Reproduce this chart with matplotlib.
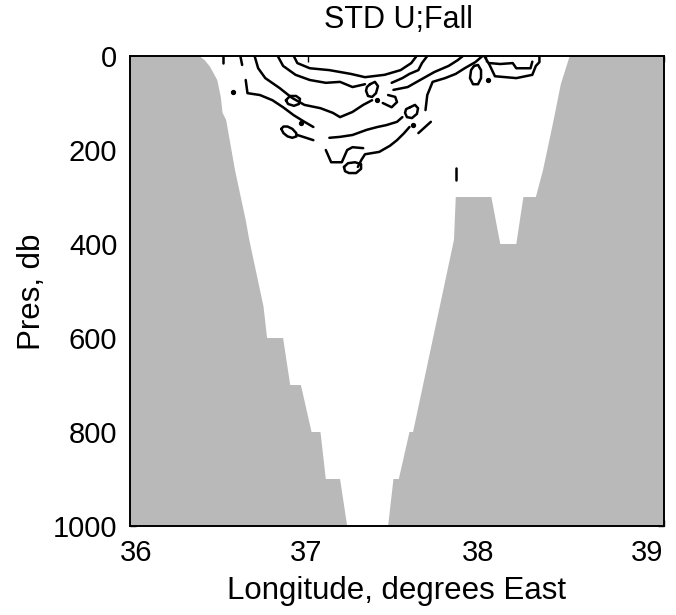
import matplotlib.pyplot as plt
from matplotlib.transforms import ScaledTranslation

plt.rcParams['font.family'] = ['Liberation Sans', 'DejaVu Sans']

# bottom topography, longitude (deg E) / pressure (db)
left_lon = [36.0, 36.39, 36.42, 36.45, 36.49, 36.51, 36.52, 36.54, 36.59, 36.65, 36.67,
            36.71, 36.75, 36.77, 36.86, 36.90, 36.96, 37.02, 37.07, 37.10, 37.18, 37.22, 36.0]
left_pres = [0, 0, 9, 23, 51, 87, 121, 136, 243, 349, 391,
             462, 533, 600, 600, 700, 700, 800, 800, 900, 900, 1000, 1000]

right_lon = [39.0, 38.47, 38.42, 38.38, 38.32, 38.28, 38.21, 38.17, 38.08, 38.03, 37.83,
             37.82, 37.59, 37.57, 37.51, 37.48, 37.45, 39.0]
right_pres = [0, 0, 60, 136, 243, 300, 300, 400, 400, 300, 300,
              391, 800, 800, 900, 900, 1000, 1000]

xtick_vals = [36, 37, 38, 39]
ytick_vals = [0, 200, 400, 600, 800, 1000]

# contour pieces of STD U
c1_lon = [36.92, 36.94, 37.01, 37.12, 37.24, 37.32, 37.43, 37.52, 37.58, 37.61]
c1_pres = [0, 15, 26, 30, 38, 45, 40, 30, 15, 0]
c2a_lon = [36.83, 36.86, 36.93, 37.01, 37.10, 37.18, 37.25, 37.32]
c2a_pres = [0, 21, 40, 51, 57, 55, 66, 60]
c2b_lon = [37.47, 37.53, 37.57, 37.62, 37.64, 37.67]
c2b_pres = [57, 47, 38, 30, 15, 0]
c3a_lon = [36.70, 36.72, 36.76, 36.84, 36.91, 36.98, 37.07, 37.14, 37.18, 37.25, 37.31, 37.36]
c3a_pres = [0, 26, 47, 68, 89, 104, 111, 121, 130, 119, 104, 94]
c3b_lon = [37.45, 37.49, 37.50, 37.47, 37.42]
c3b_pres = [83, 87, 98, 109, 100]
c3c_lon = [37.48, 37.56, 37.63, 37.71, 37.79, 37.84, 37.87]
c3c_pres = [72, 66, 51, 34, 21, 9, 0]
c4a_lon = [36.65, 36.66, 36.73, 36.80, 36.86, 36.92, 36.98, 37.03]
c4a_pres = [51, 79, 83, 94, 109, 126, 140, 151]
c4b_lon = [37.66, 37.67, 37.70, 37.77, 37.83, 37.88, 37.94, 37.98]
c4b_pres = [115, 83, 55, 47, 38, 26, 13, 0]
c5_lon = [37.12, 37.18, 37.25, 37.33, 37.39, 37.44, 37.50, 37.53]
c5_pres = [174, 172, 168, 157, 151, 147, 140, 130]
c6a_lon = [37.10, 37.13, 37.19, 37.22, 37.25, 37.31]
c6a_pres = [200, 226, 226, 200, 194, 196]
c6b_lon = [37.28, 37.30, 37.32, 37.40, 37.46, 37.50, 37.54, 37.57]
c6b_pres = [236, 221, 209, 204, 191, 179, 164, 151]
seg_lon = [37.62, 37.69]
seg_pres = [164, 140]
dash_lon = [37.83, 37.83]
dash_pres = [238, 264]
tail_lon = [36.94, 37.03]
tail_pres = [168, 179]
tick1_lon = [36.52, 36.52]
tick1_pres = [0, 15]
tick2_lon = [36.62, 36.63]
tick2_pres = [0, 19]
box_lon = [37.99, 38.02, 38.05, 38.17, 38.26, 38.28, 38.30, 38.30]
box_pres = [0, 19, 43, 47, 40, 21, 13, 0]
boxin_lon = [38.02, 38.08, 38.15, 38.17, 38.25, 38.26]
boxin_pres = [15, 17, 15, 26, 26, 12]

# small closed loops
e1_lon = [36.850, 36.862, 36.885, 36.912, 36.934, 36.935, 36.912, 36.885, 36.862, 36.850]
e1_pres = [155, 150, 150, 155, 164, 171, 174, 171, 164, 155]
e2_lon = [36.876, 36.899, 36.933, 36.955, 36.949, 36.921, 36.888, 36.876]
e2_pres = [94, 85, 85, 91, 102, 106, 102, 94]
e3_lon = [37.348, 37.376, 37.393, 37.382, 37.360, 37.337, 37.326, 37.331, 37.348]
e3_pres = [60, 55, 64, 79, 87, 85, 74, 66, 60]
e4_lon = [37.573, 37.601, 37.618, 37.612, 37.584, 37.556, 37.545, 37.551, 37.573]
e4_pres = [109, 104, 111, 123, 132, 130, 121, 113, 109]
e5_lon = [37.933, 37.955, 37.972, 37.972, 37.955, 37.927, 37.910, 37.916, 37.933]
e5_pres = [21, 19, 30, 47, 60, 60, 47, 30, 21]
e6_lon = [37.202, 37.225, 37.264, 37.298, 37.298, 37.270, 37.230, 37.208, 37.202]
e6_pres = [236, 228, 226, 230, 240, 249, 249, 245, 236]

dot_lon = [36.58, 37.39, 37.59, 38.01, 36.96]
dot_pres = [77, 94, 147, 51, 143]

lines = [(c1_lon, c1_pres), (c2a_lon, c2a_pres), (c2b_lon, c2b_pres),
         (c3a_lon, c3a_pres), (c3b_lon, c3b_pres), (c3c_lon, c3c_pres),
         (c4a_lon, c4a_pres), (c4b_lon, c4b_pres), (c5_lon, c5_pres),
         (c6a_lon, c6a_pres), (c6b_lon, c6b_pres), (seg_lon, seg_pres),
         (dash_lon, dash_pres), (tail_lon, tail_pres), (tick1_lon, tick1_pres),
         (tick2_lon, tick2_pres), (box_lon, box_pres), (boxin_lon, boxin_pres),
         (e1_lon, e1_pres), (e2_lon, e2_pres), (e3_lon, e3_pres),
         (e4_lon, e4_pres), (e5_lon, e5_pres), (e6_lon, e6_pres)]

fig = plt.figure(figsize=(6.76, 6.15), dpi=100)
ax = fig.add_axes([0.1923, 0.1447, 0.790, 0.7642])

ax.fill(left_lon, left_pres, color='#b9b9b9', lw=0, zorder=1)
ax.fill(right_lon, right_pres, color='#b9b9b9', lw=0, zorder=1)

for lon, pres in lines:
    ax.plot(lon, pres, color='black', lw=1.8, solid_joinstyle='round',
            solid_capstyle='round', zorder=3)
ax.plot(dot_lon, dot_pres, 'o', color='black', ms=2.8, zorder=3)

ax.set_xlim(36, 39)
ax.set_ylim(1000, 0)
ax.set_xticks(xtick_vals)
ax.set_yticks(ytick_vals)
ax.set_axisbelow(True)
ax.tick_params(direction='in', length=4, width=1, labelsize=21,
               top=True, right=True, pad=9)
for s in ax.spines.values():
    s.set_linewidth(1.4)
    s.set_zorder(4)

# the old plot set its x labels a bit squeezed together
for lab, dx in zip(ax.get_xticklabels(), [6, -2, -8, -17]):
    lab.set_transform(lab.get_transform() + ScaledTranslation(dx / 100, 0, fig.dpi_scale_trans))

fig.text(0.59, 1 - 20 / 615, 'STD U;Fall', ha='center', va='center', fontsize=22)
fig.text(0.587, 1 - 591 / 615, 'Longitude, degrees East', ha='center', va='center',
         fontsize=22.5)
fig.text(32 / 676, 1 - 292 / 615, 'Pres, db', ha='center', va='center',
         rotation=90, fontsize=22.5)

fig.savefig('out.png', dpi=100)
